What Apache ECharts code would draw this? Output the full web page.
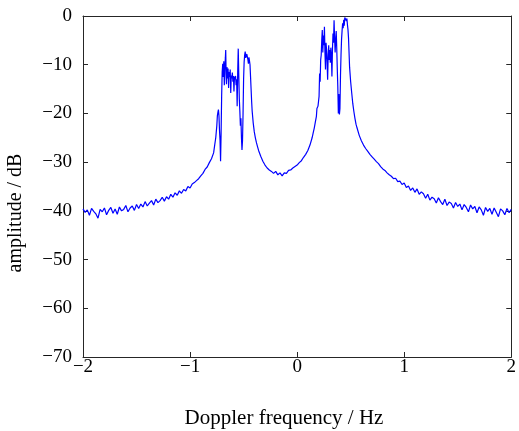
<!DOCTYPE html>
<html>
<head>
<meta charset="utf-8">
<script src="https://cdn.jsdelivr.net/npm/echarts@6/dist/echarts.min.js"></script>
<style>
html,body{margin:0;padding:0;background:#fff;}
#chart{width:519px;height:431px;}
</style>
</head>
<body>
<div id="chart"></div>
<script>
// Axis settings / tick values
const xTicks = [-2, -1, 0, 1, 2];
const yTicks = [-70, -60, -50, -40, -30, -20, -10, 0];
const xLabel = 'Doppler frequency / Hz';
const yLabel = 'amplitude / dB';

// Spectrum: [frequency Hz, amplitude dB]
const leftTail = [
[-2.00,-39.6],[-1.98,-40.3],[-1.96,-39.8],[-1.94,-40.9],[-1.92,-39.5],[-1.90,-40.1],[-1.88,-40.6],[-1.86,-41.5],
[-1.84,-39.7],[-1.82,-40.2],[-1.80,-39.4],[-1.78,-40.8],[-1.76,-39.9],[-1.74,-39.3],[-1.72,-40.5],[-1.70,-39.6],
[-1.68,-40.7],[-1.66,-39.2],[-1.64,-40.0],[-1.62,-39.7],[-1.60,-38.9],[-1.58,-40.2],[-1.56,-39.4],[-1.54,-39.0],
[-1.52,-39.9],[-1.50,-38.7],[-1.48,-39.5],[-1.46,-38.6],[-1.44,-39.2],[-1.42,-38.1],[-1.40,-39.0],[-1.38,-38.4],
[-1.36,-37.9],[-1.34,-38.8],[-1.32,-37.6],[-1.30,-38.3],[-1.28,-37.9],[-1.26,-37.2],[-1.24,-38.0],[-1.22,-37.1],
[-1.20,-37.6],[-1.18,-36.6],[-1.16,-37.2],[-1.14,-36.3],[-1.12,-36.8],[-1.10,-35.9],[-1.08,-36.4],[-1.06,-35.6],
[-1.04,-35.9],[-1.02,-35.0],[-1.00,-35.3],[-0.98,-34.5],[-0.96,-34.2],[-0.94,-33.8],[-0.92,-33.4],[-0.90,-32.8],
[-0.88,-32.3],[-0.86,-31.5],[-0.84,-31.0],[-0.82,-30.1],[-0.80,-29.3],[-0.78,-28.1]
];
const leftPeak = [
[-0.77,-26.5],[-0.76,-25.0],[-0.75,-22.5],[-0.745,-20.5],[-0.74,-19.8],[-0.735,-19.2],[-0.73,-20.5],[-0.725,-23.5],
[-0.72,-25.5],[-0.715,-29.8],[-0.71,-24.0],[-0.705,-16.5],[-0.70,-11.5],[-0.695,-9.8],[-0.69,-12.5],[-0.685,-9.3],
[-0.68,-14.2],[-0.675,-10.5],[-0.67,-8.5],[-0.667,-7.0],[-0.663,-12.0],[-0.66,-14.0],[-0.655,-10.5],[-0.65,-12.8],
[-0.645,-10.8],[-0.64,-14.8],[-0.635,-11.5],[-0.63,-12.5],[-0.625,-11.0],[-0.62,-15.8],[-0.615,-12.2],[-0.61,-12.8],
[-0.605,-11.6],[-0.60,-13.5],[-0.595,-12.3],[-0.59,-15.5],[-0.585,-12.4],[-0.58,-13.0],[-0.575,-12.3],[-0.57,-14.2],
[-0.565,-13.0],[-0.56,-18.5],[-0.555,-11.5],[-0.55,-6.7],[-0.545,-12.0],[-0.54,-17.0],[-0.535,-19.5],[-0.53,-22.5],
[-0.525,-21.0],[-0.52,-25.0],[-0.515,-27.5],[-0.51,-25.5],[-0.505,-20.0],[-0.50,-13.0],[-0.495,-9.5],[-0.49,-8.0],
[-0.485,-7.3],[-0.48,-8.6],[-0.475,-9.0],[-0.47,-7.8],[-0.465,-7.6],[-0.46,-8.9],[-0.455,-9.8],[-0.45,-8.5],
[-0.445,-9.2],[-0.44,-10.0],[-0.435,-12.5],[-0.43,-15.0],[-0.425,-17.5],[-0.42,-19.5],[-0.41,-22.0],[-0.40,-23.8],
[-0.39,-25.0],[-0.38,-26.0],[-0.37,-26.8]
];
const valley = [
[-0.36,-27.6],[-0.34,-28.8],[-0.32,-29.8],[-0.30,-30.6],[-0.28,-31.2],[-0.26,-31.6],[-0.24,-31.9],[-0.22,-32.3],
[-0.20,-31.9],[-0.18,-32.6],[-0.16,-32.2],[-0.14,-32.8],[-0.12,-32.2],[-0.10,-32.3],[-0.08,-31.7],[-0.06,-31.6],
[-0.04,-31.2],[-0.02,-30.9],[0.00,-30.6],[0.02,-30.1],[0.04,-29.7],[0.06,-29.0],[0.08,-28.4],[0.10,-27.6],
[0.12,-26.5],[0.14,-25.0],[0.15,-24.0],[0.16,-23.0],[0.17,-21.8],[0.18,-20.6],[0.185,-19.0],[0.19,-18.8]
];
const rightPeak = [
[0.195,-18.5],[0.20,-17.5],[0.205,-16.5],[0.21,-11.8],[0.215,-13.5],[0.22,-9.0],[0.225,-8.0],[0.23,-5.0],
[0.235,-2.9],[0.24,-7.5],[0.245,-4.0],[0.25,-6.0],[0.255,-2.2],[0.26,-7.5],[0.265,-11.0],[0.27,-5.5],
[0.275,-7.0],[0.28,-9.5],[0.285,-13.1],[0.29,-8.0],[0.295,-6.0],[0.30,-9.0],[0.305,-7.0],[0.31,-9.6],
[0.315,-6.5],[0.32,-8.0],[0.325,-12.4],[0.33,-7.0],[0.335,-3.6],[0.34,-5.5],[0.345,-0.9],[0.35,-4.5],
[0.355,-7.5],[0.36,-5.0],[0.365,-3.1],[0.37,-6.5],[0.375,-10.8],[0.38,-14.5],[0.385,-20.0],[0.39,-16.0],
[0.395,-20.2],[0.40,-19.0],[0.405,-12.3],[0.41,-8.0],[0.415,-4.8],[0.42,-3.0],[0.425,-1.5],[0.43,-2.5],
[0.435,-0.8],[0.44,-2.0],[0.445,-0.3],[0.45,-0.1],[0.455,0.0],[0.46,-1.0],[0.465,-0.5],[0.47,-1.8],
[0.475,-2.8],[0.48,-4.5],[0.485,-7.5]
];
const rightTail = [
[0.49,-10.5],[0.50,-13.5],[0.51,-15.8],[0.52,-18.0],[0.53,-19.6],[0.54,-21.0],[0.55,-22.2],[0.56,-23.0],
[0.58,-24.5],[0.60,-25.6],[0.62,-26.5],[0.64,-27.2],[0.66,-27.8],[0.68,-28.4],[0.70,-28.9],[0.72,-29.4],
[0.74,-29.9],[0.76,-30.3],[0.78,-30.9],[0.80,-31.4],[0.82,-31.7],[0.84,-32.2],[0.86,-32.6],[0.88,-32.9],
[0.90,-33.4],[0.92,-33.3],[0.94,-34.0],[0.96,-33.9],[0.98,-34.6],[1.00,-34.3],[1.02,-35.2],[1.04,-34.9],
[1.06,-35.8],[1.08,-35.3],[1.10,-36.2],[1.12,-35.5],[1.14,-36.6],[1.16,-36.1],[1.18,-36.5],[1.20,-37.4],
[1.22,-36.6],[1.24,-37.8],[1.26,-37.2],[1.28,-37.5],[1.30,-38.4],[1.32,-37.3],[1.34,-38.1],[1.36,-38.7],
[1.38,-37.6],[1.40,-38.9],[1.42,-38.2],[1.44,-38.5],[1.46,-39.4],[1.48,-38.3],[1.50,-39.1],[1.52,-38.6],
[1.54,-39.8],[1.56,-38.7],[1.58,-39.3],[1.60,-40.2],[1.62,-38.8],[1.64,-39.6],[1.66,-39.1],[1.68,-40.4],
[1.70,-39.2],[1.72,-39.8],[1.74,-40.9],[1.76,-39.3],[1.78,-40.1],[1.80,-39.5],[1.82,-40.7],[1.84,-39.4],
[1.86,-40.3],[1.88,-41.2],[1.90,-39.6],[1.92,-40.0],[1.94,-40.8],[1.96,-39.5],[1.98,-40.4],[2.00,-39.7]
];

const spectrum = leftTail.concat(leftPeak, valley, rightPeak, rightTail);

const FONT = '"Liberation Serif", "Times New Roman", serif';
const AXIS_COLOR = '#262626';
const fmt = v => String(v).replace('-', '\u2212');

const chart = echarts.init(document.getElementById('chart'), null, {renderer: 'canvas'});
const baseAxisLine = {show: true, onZero: false, lineStyle: {color: AXIS_COLOR, width: 1}};
const baseTick = {show: true, inside: true, length: 5, lineStyle: {color: AXIS_COLOR, width: 1}};

chart.setOption({
  animation: false,
  backgroundColor: '#ffffff',
  grid: {left: 83, right: 1, top: 16, bottom: 74, containLabel: false},
  xAxis: [{
    type: 'value', position: 'bottom',
    min: xTicks[0], max: xTicks[xTicks.length - 1], interval: 1,
    axisLine: baseAxisLine, axisTick: baseTick, splitLine: {show: false},
    axisLabel: {show: true, margin: 1, color: '#000', fontFamily: FONT, fontSize: 19, formatter: fmt,
                showMinLabel: true, showMaxLabel: true}
  }, {
    type: 'value', position: 'top',
    min: xTicks[0], max: xTicks[xTicks.length - 1], interval: 1,
    axisLine: baseAxisLine, axisTick: baseTick, splitLine: {show: false},
    axisLabel: {show: false}
  }],
  yAxis: [{
    type: 'value', position: 'left',
    min: yTicks[0], max: yTicks[yTicks.length - 1], interval: 10,
    axisLine: baseAxisLine, axisTick: baseTick, splitLine: {show: false},
    axisLabel: {show: true, margin: 11, color: '#000', fontFamily: FONT, fontSize: 19, formatter: fmt,
                showMinLabel: true, showMaxLabel: true}
  }, {
    type: 'value', position: 'right',
    min: yTicks[0], max: yTicks[yTicks.length - 1], interval: 10,
    axisLine: baseAxisLine, axisTick: baseTick, splitLine: {show: false},
    axisLabel: {show: false}
  }],
  graphic: [{
    type: 'text',
    x: 284, y: 418,
    style: {text: xLabel, x: 0, y: 0, align: 'center', verticalAlign: 'middle',
            fill: '#000', font: '21px ' + FONT}
  }, {
    type: 'text',
    x: 16, y: 213, rotation: Math.PI / 2,
    style: {text: yLabel, x: 0, y: 0, align: 'center', verticalAlign: 'middle',
            fill: '#000', font: '20px ' + FONT}
  }],
  series: [{
    type: 'line',
    xAxisIndex: 0, yAxisIndex: 0,
    data: spectrum,
    showSymbol: false,
    symbol: 'none',
    lineStyle: {color: '#0000ff', width: 1.2},
    itemStyle: {color: '#0000ff'},
    clip: true
  }]
});
</script>
</body>
</html>
